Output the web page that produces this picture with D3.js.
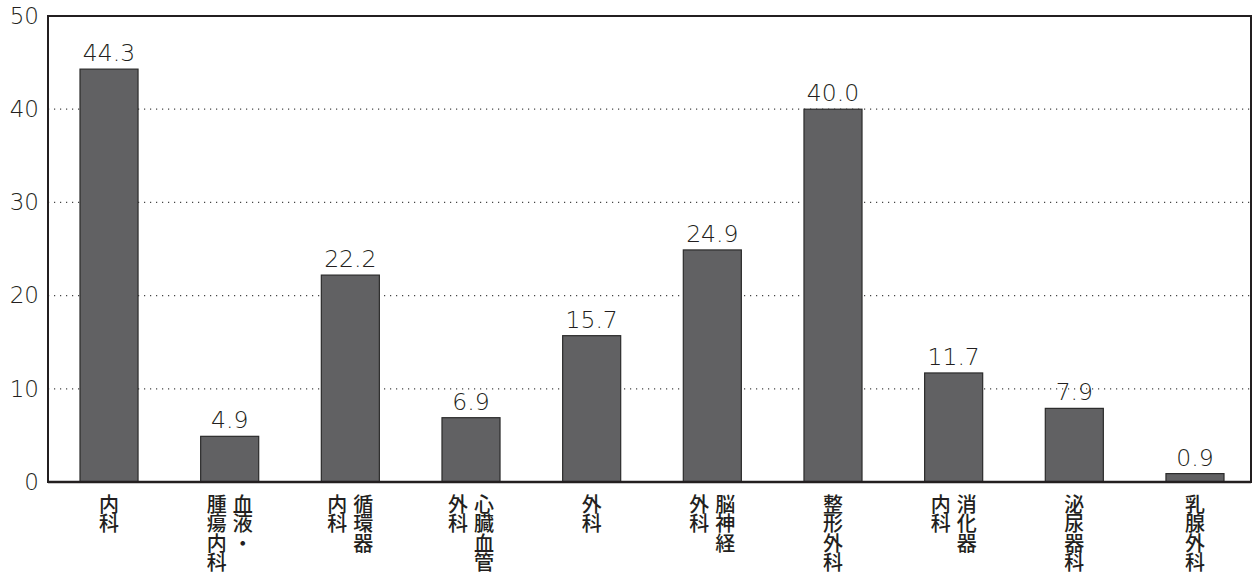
<!DOCTYPE html>
<html>
<head>
<meta charset="utf-8">
<script src="https://cdn.jsdelivr.net/npm/d3@7"></script>
<style>
  html, body { margin: 0; padding: 0; background: #fff; }
  svg { display: block; }
  text { fill: #231f20; }
  .num { font-family: "DejaVu Sans", "Noto Sans", sans-serif; font-weight: 200; }
  .cat { font-family: "Noto Sans CJK JP", "Noto Sans", sans-serif; font-weight: 500; writing-mode: vertical-rl; }
</style>
</head>
<body>
<svg id="chart" width="1258" height="576"></svg>
<script>
// ---- data ----
const categories = ["内科", "血液・腫瘍内科", "循環器内科", "心臓血管外科", "外科", "脳神経外科", "整形外科", "消化器内科", "泌尿器科", "乳腺外科"];
// vertical label columns, read right column first
const labelColumns = [
  ["内科"],
  ["血液・", "腫瘍内科"],
  ["循環器", "内科"],
  ["心臓血管", "外科"],
  ["外科"],
  ["脳神経", "外科"],
  ["整形外科"],
  ["消化器", "内科"],
  ["泌尿器科"],
  ["乳腺外科"]
];
const values = [44.3, 4.9, 22.2, 6.9, 15.7, 24.9, 40.0, 11.7, 7.9, 0.9];
const yTicks = [0, 10, 20, 30, 40, 50];
const gridTicks = [10, 20, 30, 40];

// ---- layout ----
const svg = d3.select("#chart");
const plot = { left: 48, right: 1251, top: 16, bottom: 482 };

const x = d3.scaleBand()
  .domain(categories)
  .range([80, 1224])
  .paddingInner(0.519)
  .paddingOuter(0);

const y = d3.scaleLinear().domain([0, 50]).range([plot.bottom, plot.top]);

// grid lines
svg.append("g").selectAll("line").data(gridTicks).join("line")
  .attr("x1", plot.left).attr("x2", plot.right)
  .attr("y1", d => y(d)).attr("y2", d => y(d))
  .attr("stroke", "#444").attr("stroke-width", 1.2)
  .attr("stroke-dasharray", "1.2,4.8");

// bars
svg.append("g").selectAll("rect").data(values).join("rect")
  .attr("x", (d, i) => x(categories[i]))
  .attr("width", x.bandwidth())
  .attr("y", d => y(d))
  .attr("height", d => y(0) - y(d))
  .attr("fill", "#616163")
  .attr("stroke", "#2b2b2b")
  .attr("stroke-width", 1.2);

// value labels
svg.append("g").selectAll("text").data(values).join("text")
  .attr("class", "num")
  .attr("x", (d, i) => x(categories[i]) + x.bandwidth() / 2)
  .attr("y", d => y(d) - 8)
  .attr("text-anchor", "middle")
  .attr("font-size", 23.5)
  .text(d => d.toFixed(1));

// frame
svg.append("rect")
  .attr("x", plot.left).attr("y", plot.top)
  .attr("width", plot.right - plot.left).attr("height", plot.bottom - plot.top)
  .attr("fill", "none").attr("stroke", "#231f20").attr("stroke-width", 2);
svg.append("line")
  .attr("x1", plot.left).attr("x2", plot.right)
  .attr("y1", y(0)).attr("y2", y(0))
  .attr("stroke", "#231f20").attr("stroke-width", 2.6);

// y axis labels
const yAxis = d3.axisLeft(y).tickValues(yTicks).tickSize(0).tickPadding(9).tickFormat(d3.format("d"));
const ya = svg.append("g").attr("transform", `translate(${plot.left},0)`).call(yAxis);
ya.select(".domain").remove();
ya.attr("font-family", null).attr("font-size", null);
ya.selectAll("text")
  .attr("class", "num")
  .attr("font-size", 23)
  .attr("fill", "#231f20");

// category labels (vertical writing, right-to-left columns)
const fs = 20, colGap = 26, labelTop = 494;
const lg = svg.append("g");
labelColumns.forEach((cols, i) => {
  const cx = x(categories[i]) + x.bandwidth() / 2;
  const n = cols.length;
  cols.forEach((col, j) => {
    lg.append("text")
      .attr("class", "cat")
      .attr("x", cx + ((n - 1) / 2 - j) * colGap)
      .attr("y", labelTop)
      .attr("font-size", fs)
      .attr("letter-spacing", -0.5)
      .text(col);
  });
});
</script>
</body>
</html>
